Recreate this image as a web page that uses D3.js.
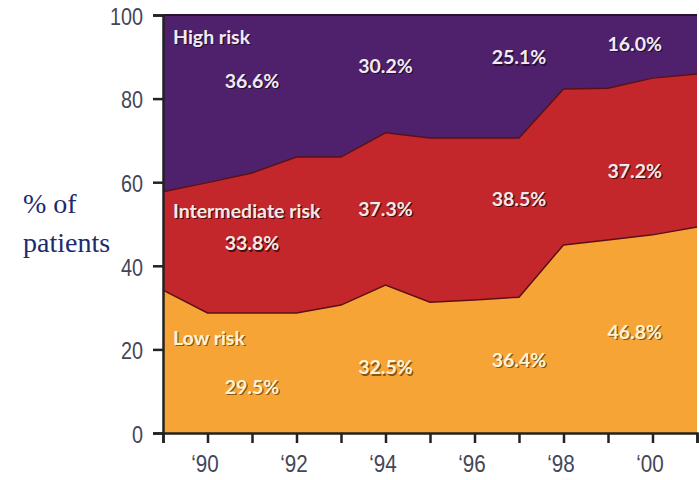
<!DOCTYPE html>
<html>
<head>
<meta charset="utf-8">
<script src="https://cdn.jsdelivr.net/npm/d3@7"></script>
<style>
  body { margin: 0; background: #fff; }
  svg { display: block; }
</style>
</head>
<body>
<svg id="chart" width="699" height="480"></svg>
<script>
// ---------------------------------------------------------------
//    DATA (% of patients)
// ---------------------------------------------------------------
const years = [1989, 1990, 1991, 1992, 1993, 1994, 1995, 1996, 1997, 1998, 1999, 2000, 2001];
const lowRisk = [34.2, 28.7, 28.7, 28.7, 30.6, 35.4, 31.3, 31.8, 32.5, 45.0, 46.2, 47.4, 49.3];
const intermediateRisk = [23.5, 31.2, 33.5, 37.3, 35.4, 36.4, 39.3, 38.8, 38.1, 37.3, 36.3, 37.5, 36.6];
const highRisk = [42.3, 40.1, 37.8, 34.0, 34.0, 28.2, 29.4, 29.4, 29.4, 17.7, 17.5, 15.1, 14.1];

const seriesNames = ["Low risk", "Intermediate risk", "High risk"];
const yTicks = [0, 20, 40, 60, 80, 100];
const xTickLabels = ["‘90", "‘92", "‘94", "‘96", "‘98", "‘00"];

// period shares printed on the bands
const highShares = [36.6, 30.2, 25.1, 16.0];
const intermediateShares = [33.8, 37.3, 38.5, 37.2];
const lowShares = [29.5, 32.5, 36.4, 46.8];

// ---------------------------------------------------------------
//    DRAWING
// ---------------------------------------------------------------
const svg = d3.select("#chart");
const colors = ["#f7a437", "#c4272b", "#4f216c"];

const x = d3.scaleLinear().domain([1989, 2001]).range([163, 697]);
const y = d3.scaleLinear().domain([0, 100]).range([433, 15]);

const rows = years.map((yr, i) => ({
    year: yr,
    "Low risk": lowRisk[i],
    "Intermediate risk": intermediateRisk[i],
    "High risk": highRisk[i]
}));

const stacked = d3.stack().keys(seriesNames)(rows);

const area = d3.area()
    .x(d => x(d.data.year))
    .y0(d => y(d[0]))
    .y1(d => y(d[1]));

svg.append("g")
    .selectAll("path")
    .data(stacked)
    .join("path")
    .attr("d", area)
    .attr("fill", (d, i) => colors[i]);

// boundary lines between the bands
const edge = d3.line()
    .x(d => x(d.data.year))
    .y(d => y(d[1]));

svg.append("g")
    .selectAll("path")
    .data(stacked)
    .join("path")
    .attr("d", edge)
    .attr("fill", "none")
    .attr("stroke", (d, i) => i === 2 ? "#2a1030" : "#5a1014")
    .attr("stroke-width", (d, i) => i === 2 ? 2 : 1.5);

const tickFont = "'Liberation Sans', Arial, sans-serif";

// y axis
const yAxis = svg.append("g")
    .attr("transform", `translate(${x(1989)},0)`)
    .call(d3.axisLeft(y).tickValues(yTicks).tickSize(10));
yAxis.select(".domain").attr("stroke", "#222").attr("stroke-width", 2.5);
yAxis.selectAll(".tick line").attr("stroke", "#222").attr("stroke-width", 2.5);
// the original tick font is a narrow one: squeeze it horizontally
yAxis.selectAll(".tick text")
    .attr("x", 0)
    .attr("dy", "0.4em")
    .attr("transform", "translate(-20,0) scale(0.86,1)")
    .attr("fill", "#444658")
    .style("font-family", tickFont)
    .style("font-size", "23px");

// x axis
const xAxis = svg.append("g")
    .attr("transform", `translate(0,${y(0)})`)
    .call(d3.axisBottom(x)
        .tickValues(d3.range(1989, 2002))
        .tickSize(10)
        .tickPadding(12)
        .tickFormat(d => d % 2 === 0 ? xTickLabels[(d - 1990) / 2] : ""));
xAxis.select(".domain").attr("stroke", "#222").attr("stroke-width", 2.5);
xAxis.selectAll(".tick line").attr("stroke", "#222").attr("stroke-width", 2.5);
xAxis.selectAll(".tick text")
    .attr("transform", "translate(-3,0) scale(0.86,1)")
    .attr("fill", "#444658")
    .style("font-family", tickFont)
    .style("font-size", "24px");

// y axis title
const yTitle = svg.append("text")
    .attr("fill", "#1c2a6e")
    .style("font-family", "'Liberation Serif', 'Times New Roman', serif")
    .style("font-size", "28px");
yTitle.append("tspan").attr("x", 23).attr("y", 213).text("% of");
yTitle.append("tspan").attr("x", 23).attr("y", 252).text("patients");

// labels on the bands
const labelFont = "Lato, 'Liberation Sans', sans-serif";
const periodX = [1991, 1994, 1997, 1999.6];

function bandLabel(px, py, txt, fill, shadow, anchor) {
    svg.append("text")
        .attr("x", px + 1.2).attr("y", py + 1.2)
        .attr("text-anchor", anchor)
        .attr("dominant-baseline", "central")
        .attr("fill", shadow)
        .style("font-family", labelFont)
        .style("font-weight", "bold")
        .style("font-size", "19.5px")
        .text(txt);
    svg.append("text")
        .attr("x", px).attr("y", py)
        .attr("text-anchor", anchor)
        .attr("dominant-baseline", "central")
        .attr("fill", fill)
        .style("font-family", labelFont)
        .style("font-weight", "bold")
        .style("font-size", "19.5px")
        .text(txt);
}

bandLabel(173, 36, "High risk", "#f3eaf3", "#24102e", "start");
bandLabel(173, 210, "Intermediate risk", "#f6e8e6", "#4a0c10", "start");
bandLabel(173, 337, "Low risk", "#fff3d6", "#8a5512", "start");

const highY = [84.4, 88.0, 90.0, 93.3];
const interY = [45.5, 53.8, 56.2, 62.9];
const lowY = [11.2, 15.8, 17.7, 24.4];

highShares.forEach((v, i) =>
    bandLabel(x(periodX[i]), y(highY[i]), v.toFixed(1) + "%", "#f3eaf3", "#24102e", "middle"));
intermediateShares.forEach((v, i) =>
    bandLabel(x(periodX[i]), y(interY[i]), v.toFixed(1) + "%", "#f6e8e6", "#4a0c10", "middle"));
lowShares.forEach((v, i) =>
    bandLabel(x(periodX[i]), y(lowY[i]), v.toFixed(1) + "%", "#fff3d6", "#8a5512", "middle"));
</script>
</body>
</html>
